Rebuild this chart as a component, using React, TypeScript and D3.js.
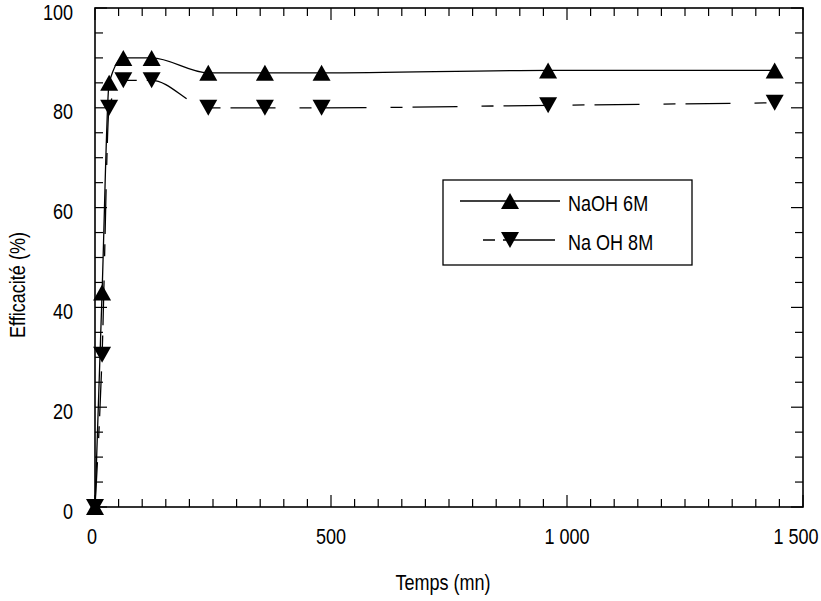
import React from "react";
import * as d3 from "d3";

const times = [0, 15, 30, 60, 120, 240, 360, 480, 960, 1440];
const naoh6M = [0, 43, 85, 90, 90, 87, 87, 87, 87.5, 87.5];
const naoh8M = [0, 30.5, 80, 85.5, 85.5, 80, 80, 80, 80.5, 81];
const xTickValues = [0, 500, 1000, 1500];
const xTickLabels = ["0", "500", "1 000", "1 500"];
const yTickValues = [0, 20, 40, 60, 80, 100];
const seriesNames = ["NaOH 6M", "Na OH 8M"];
const xTitle = "Temps (mn)";
const yTitle = "Efficacité (%)";

const W = 821;
const H = 601;
const L = 95, R = 803, T = 8, B = 507;
const FONT = "'Liberation Sans', Arial, sans-serif";
const NARROW = 0.82;

const triUp = "M0,-8L9,8L-9,8Z";
const triDown = "M0,8L9,-8L-9,-8Z";

function NText({
  x,
  y,
  anchor = "start",
  rotate = 0,
  children,
}: {
  x: number;
  y: number;
  anchor?: "start" | "middle" | "end";
  rotate?: number;
  children: React.ReactNode;
}) {
  return (
    <text
      transform={`translate(${x},${y}) rotate(${rotate}) scale(${NARROW},1)`}
      textAnchor={anchor}
      dominantBaseline="central"
      fontSize={22}
      fill="#000"
    >
      {children}
    </text>
  );
}

export default function App() {
  const x = d3.scaleLinear().domain([0, 1500]).range([L, R]);
  const y = d3.scaleLinear().domain([0, 100]).range([B, T]);
  const line = d3
    .line<[number, number]>()
    .x((d) => x(d[0]))
    .y((d) => y(d[1]))
    .curve(d3.curveMonotoneX);
  const s6 = times.map((t, i) => [t, naoh6M[i]] as [number, number]);
  const s8 = times.map((t, i) => [t, naoh8M[i]] as [number, number]);

  const yMinor = d3.range(0, 101, 5);
  const xMinor = d3.range(0, 1501, 50);
  const xLabelShift = [-3, 0, 0, -7];

  return (
    <svg
      width={W}
      height={H}
      style={{ position: "absolute", left: 0, top: 0, background: "#fff" }}
      fontFamily={FONT}
    >
      <rect x={0} y={0} width={W} height={H} fill="#fff" />
      {/* ticks */}
      {yMinor.map((v) => {
        const len = v % 20 === 0 ? 12 : 8;
        return (
          <g key={"yt" + v} stroke="#000" strokeWidth={1.2}>
            <line x1={L} x2={L + len} y1={y(v)} y2={y(v)} />
            <line x1={R} x2={R - len} y1={y(v)} y2={y(v)} />
          </g>
        );
      })}
      {xMinor.map((v) => {
        const len = v % 500 === 0 ? 12 : 8;
        return (
          <g key={"xt" + v} stroke="#000" strokeWidth={1.2}>
            <line x1={x(v)} x2={x(v)} y1={B} y2={B - len} />
            <line x1={x(v)} x2={x(v)} y1={T} y2={T + len} />
          </g>
        );
      })}
      {/* frame */}
      <rect x={L} y={T} width={R - L} height={B - T} fill="none" stroke="#000" strokeWidth={1.6} />

      {/* tick labels */}
      {yTickValues.map((v) => (
        <NText key={"yl" + v} x={73} y={y(v) + 4} anchor="end">
          {v}
        </NText>
      ))}
      {xTickValues.map((v, i) => (
        <NText key={"xl" + v} x={x(v) + xLabelShift[i]} y={536} anchor="middle">
          {xTickLabels[i]}
        </NText>
      ))}
      <NText x={443} y={582} anchor="middle">
        {xTitle}
      </NText>
      <NText x={17} y={285} anchor="middle" rotate={-90}>
        {yTitle}
      </NText>

      {/* series */}
      <path d={line(s6) || ""} fill="none" stroke="#000" strokeWidth={1.3} />
      <path d={line(s8) || ""} fill="none" stroke="#000" strokeWidth={1.3} strokeDasharray="45,24,12,10" />
      {s6.map((d, i) => (
        <path key={"m6" + i} d={triUp} transform={`translate(${x(d[0])},${y(d[1])})`} fill="#000" />
      ))}
      {s8.map((d, i) => (
        <path key={"m8" + i} d={triDown} transform={`translate(${x(d[0])},${y(d[1])})`} fill="#000" />
      ))}

      {/* legend */}
      <rect x={443} y={180} width={249} height={85} fill="#fff" stroke="#000" strokeWidth={1.3} />
      <line x1={460} x2={560} y1={201} y2={201} stroke="#000" strokeWidth={1.3} />
      <path d={triUp} transform="translate(510,201)" fill="#000" />
      <NText x={568} y={203}>{seriesNames[0]}</NText>
      <line x1={483} x2={555} y1={240} y2={240} stroke="#000" strokeWidth={1.3} strokeDasharray="12,8,60" />
      <path d={triDown} transform="translate(510,240)" fill="#000" />
      <NText x={568} y={242}>{seriesNames[1]}</NText>
    </svg>
  );
}
